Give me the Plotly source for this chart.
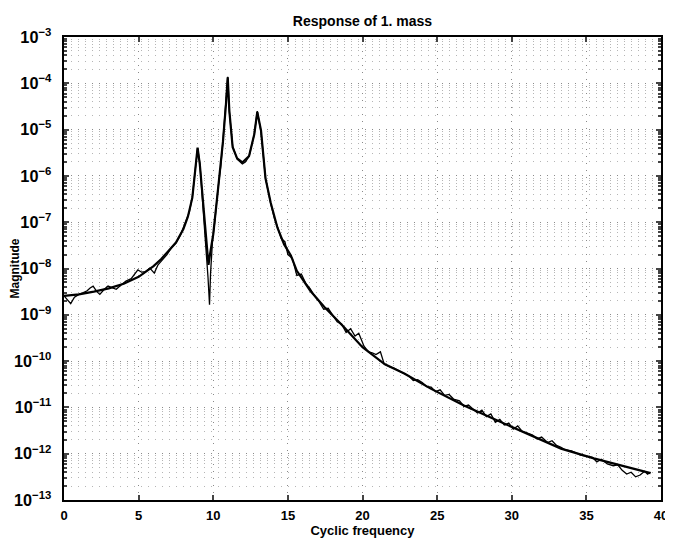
import plotly.graph_objects as go

# ---- data (frequency, log10 magnitude) ----
smooth_freq = [0.0, 1.0, 2.0, 3.0, 4.0, 5.0, 6.0, 6.5, 7.0, 7.5, 8.0, 8.3, 8.6, 8.8, 8.95,
               9.1, 9.25, 9.4, 9.55, 9.68, 9.8, 10.0, 10.3, 10.5, 10.65, 10.85, 10.97,
               11.08, 11.3, 11.6, 11.95, 12.4, 12.75, 12.95, 13.2, 13.5, 13.85, 14.3,
               14.75, 15.2, 15.6, 16.5, 17.5, 18.8, 20.0, 21.5, 22.8, 24.6, 26.8, 29.0,
               31.5, 33.3, 35.5, 37.7, 39.3]
smooth_log10 = [-8.59, -8.56, -8.50, -8.43, -8.33, -8.18, -7.95, -7.80, -7.62, -7.44, -7.15,
                -6.88, -6.47, -5.90, -5.39, -5.75, -6.35, -6.96, -7.52, -7.92, -7.66, -7.26,
                -6.35, -5.80, -5.26, -4.46, -3.87, -4.60, -5.38, -5.62, -5.71, -5.57, -5.10,
                -4.62, -5.02, -6.05, -6.58, -7.12, -7.48, -7.72, -8.05, -8.48, -8.85, -9.28,
                -9.70, -10.07, -10.27, -10.60, -10.96, -11.28, -11.64, -11.89, -12.10,
                -12.28, -12.42]

noisy_freq = [0.0, 0.25, 0.45, 0.7, 1.0, 1.3, 1.55, 1.75, 1.95, 2.2, 2.4, 2.7, 2.95, 3.25,
              3.5, 3.8, 4.15, 4.5, 4.95, 5.2, 5.45, 5.75, 6.05, 6.3, 6.6, 6.9, 7.2, 7.5,
              7.8, 8.05, 8.2, 8.4, 8.6, 8.8, 8.95, 9.1, 9.3, 9.5, 9.65, 9.75, 9.82, 9.95,
              10.1, 10.3, 10.5, 10.65, 10.85, 10.97, 11.08, 11.3, 11.6, 11.8, 11.95, 12.15,
              12.4, 12.75, 12.95, 13.2, 13.5, 13.85, 14.1, 14.3, 14.55, 14.8, 15.0, 15.3,
              15.6, 15.9, 16.2, 16.5, 16.8, 17.1, 17.4, 17.7, 17.95, 18.3, 18.6, 18.9, 19.2,
              19.5, 19.75, 20.1, 20.4, 20.65, 20.9, 21.2, 21.45, 21.8, 22.1, 22.4, 22.8,
              23.1, 23.4, 23.7, 24.0, 24.3, 24.6, 24.9, 25.2, 25.5, 25.8, 26.1, 26.5, 26.8,
              27.1, 27.4, 27.7, 28.0, 28.3, 28.6, 28.9, 29.2, 29.5, 29.8, 30.1, 30.4, 30.7,
              31.0, 31.4, 31.7, 32.0, 32.4, 32.7, 33.0, 33.3, 33.6, 34.0, 34.3, 34.6, 35.0,
              35.4, 35.7, 36.0, 36.4, 36.8, 37.1, 37.4, 37.7, 38.0, 38.3, 38.6, 38.9, 39.1,
              39.3]
noisy_log10 = [-8.59, -8.68, -8.76, -8.62, -8.56, -8.52, -8.48, -8.42, -8.38, -8.50, -8.56,
               -8.45, -8.38, -8.42, -8.45, -8.36, -8.27, -8.22, -8.03, -8.08, -8.07, -7.99,
               -8.10, -7.92, -7.80, -7.70, -7.55, -7.45, -7.28, -7.08, -6.98, -6.78, -6.45,
               -5.90, -5.40, -5.72, -6.55, -7.45, -8.20, -8.78, -8.10, -7.40, -7.00, -6.33,
               -5.80, -5.25, -4.44, -3.86, -4.62, -5.36, -5.64, -5.70, -5.74, -5.70, -5.58,
               -5.10, -4.60, -5.05, -6.05, -6.60, -6.92, -7.10, -7.35, -7.42, -7.70, -7.78,
               -8.15, -8.12, -8.32, -8.44, -8.60, -8.72, -8.88, -8.86, -8.98, -9.15, -9.20,
               -9.38, -9.30, -9.46, -9.40, -9.68, -9.80, -9.82, -9.86, -9.80, -10.06, -10.12,
               -10.15, -10.20, -10.27, -10.32, -10.42, -10.40, -10.46, -10.55, -10.56, -10.66,
               -10.62, -10.74, -10.72, -10.82, -10.86, -10.98, -10.95, -11.03, -11.12, -11.06,
               -11.20, -11.14, -11.32, -11.26, -11.38, -11.34, -11.47, -11.40, -11.52, -11.55,
               -11.60, -11.68, -11.64, -11.76, -11.72, -11.82, -11.86, -11.92, -11.94, -11.98,
               -12.03, -12.05, -12.08, -12.18, -12.12, -12.22, -12.26, -12.24, -12.36, -12.44,
               -12.40, -12.50, -12.46, -12.38, -12.44, -12.40]

x_ticks = [0, 5, 10, 15, 20, 25, 30, 35, 40]

smooth_mag = [10 ** v for v in smooth_log10]
noisy_mag = [10 ** v for v in noisy_log10]

FONT = "Liberation Sans, Arial, sans-serif"

# The page body has an 8px default margin, so the figure is sized to fit the
# 673x540 window once offset by that margin.
W, H = 665, 532

fig = go.Figure()
fig.add_trace(go.Scatter(x=noisy_freq, y=noisy_mag, mode="lines",
                         line=dict(color="black", width=1.3), showlegend=False))
fig.add_trace(go.Scatter(x=smooth_freq, y=smooth_mag, mode="lines",
                         line=dict(color="black", width=2.2), showlegend=False))

fig.update_layout(
    width=W, height=H,
    margin=dict(l=56, r=12, t=29, b=40),
    paper_bgcolor="white", plot_bgcolor="white",
    font=dict(family=FONT, size=13, color="black", weight="bold"),
    title=dict(text="Response of 1. mass", x=0.5, xref="paper", xanchor="center",
               y=1 - 13 / H, yref="container", yanchor="middle",
               font=dict(family=FONT, size=14, weight="bold")),
)
fig.update_xaxes(
    range=[0, 40], tickvals=x_ticks, ticks="inside", ticklen=5, tickwidth=1.5,
    tickfont=dict(size=13, weight="bold"), ticklabelstandoff=2,
    showline=True, linecolor="black", linewidth=2, mirror="ticks",
    showgrid=True, gridcolor="#8a8a8a", griddash="1px,6px", gridwidth=1,
    zeroline=False, automargin=False,
    title=dict(text="Cyclic frequency", standoff=2, font=dict(size=13, weight="bold")),
)
fig.update_yaxes(
    type="log", range=[-13, -3], dtick=1, exponentformat="power",
    ticks="inside", ticklen=5, tickwidth=1.5, ticklabelstandoff=8,
    showline=True, linecolor="black", linewidth=2, mirror="ticks",
    showgrid=True, gridcolor="#8a8a8a", griddash="1px,6px", gridwidth=1,
    minor=dict(ticks="inside", ticklen=3, showgrid=True, gridcolor="#b5b5b5",
               griddash="1px,6px", gridwidth=1),
    zeroline=False, automargin=False,
    title=dict(text="Magnitude", standoff=6, font=dict(size=12, weight="bold")),
)

fig.write_html("out.html")
